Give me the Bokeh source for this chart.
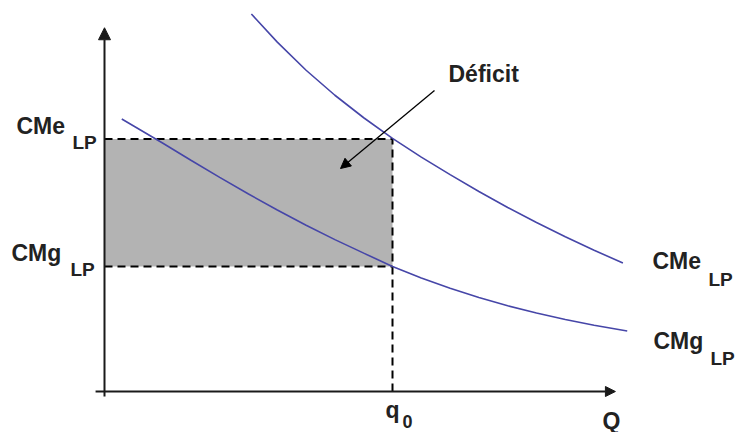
from bokeh.plotting import figure
from bokeh.models import Range1d, Arrow, NormalHead, Label
from bokeh.embed import file_html
from bokeh.resources import INLINE

# ---------------- data ----------------
q_cme = [5.1, 6, 7, 8, 9, 10, 11, 12, 13, 14, 15, 16, 17, 18]
cme_values = [30.2, 27.95, 25.7, 23.7, 21.9, 20.25, 18.75, 17.35, 16.0, 14.72, 13.52, 12.38, 11.3, 10.28]

q_cmg = [0.6, 2, 3, 4, 5, 6, 7, 8, 9, 10, 11, 12, 13, 14, 15, 16, 17, 18.15]
cmg_values = [21.8, 19.9, 18.5, 17.13, 15.8, 14.52, 13.3, 12.15, 11.07, 10.0,
              9.08, 8.26, 7.52, 6.86, 6.28, 5.76, 5.3, 4.84]

q0 = 10.0
cme_lp = 20.2
cmg_lp = 10.0
q_axis_end = 17.74
p_axis_end = 29.1

main_labels = ["CMe", "CMg"]
sub_label = "LP"
deficit_label = "Déficit"
q0_label = ("q", "0")
q_label = "Q"

# ---------------- layout / style ----------------
W, H = 737, 432
XU, YU = 28.8, 12.5          # pixels per data unit
OX, OY = 104, 391            # picture position of origin
SHIFT = 8                    # text baseline correction (px)
FONT = "Liberation Sans"
TXT = "#222222"
CURVE = "#4646a8"
AXIS = "#1a1a1a"


def dx(px):
    return (px - OX) / XU


def dy(py):
    return (OY - py) / YU


p = figure(width=W, height=H,
           x_range=Range1d(dx(0), dx(W)),
           y_range=Range1d(dy(H), dy(0)),
           x_axis_type=None, y_axis_type=None,
           output_backend="svg", toolbar_location=None,
           min_border=0, title=None)
p.outline_line_color = None
p.background_fill_color = "white"
p.border_fill_color = "white"

# shaded deficit area
p.quad(left=[0], right=[q0], bottom=[cmg_lp], top=[cme_lp],
       fill_color="#b3b3b3", line_color=None)

# dashed guide lines
p.segment(x0=[0, 0, q0], y0=[cme_lp, cmg_lp, 0], x1=[q0, q0, q0], y1=[cme_lp, cmg_lp, cme_lp],
          line_color="black", line_width=2, line_dash="8 5")

# curves
p.line(q_cme, cme_values, line_color=CURVE, line_width=1.6)
p.line(q_cmg, cmg_values, line_color=CURVE, line_width=1.6)

# axes
p.add_layout(Arrow(end=NormalHead(size=12, fill_color=AXIS, line_color=AXIS),
                   x_start=0, y_start=-0.4, x_end=0, y_end=p_axis_end,
                   line_width=2, line_color=AXIS))
p.add_layout(Arrow(end=NormalHead(size=10, fill_color=AXIS, line_color=AXIS),
                   x_start=-0.31, y_start=0, x_end=q_axis_end, y_end=0,
                   line_width=2, line_color=AXIS))

# deficit arrow
p.add_layout(Arrow(end=NormalHead(size=10, fill_color="black", line_color="black"),
                   x_start=dx(434), y_start=dy(90), x_end=dx(340), y_end=dy(168),
                   line_width=1.3, line_color="black"))


def lab(x, y, text, size):
    p.add_layout(Label(x=x, y=y + SHIFT / YU, text=text, text_font=FONT, text_font_style="bold",
                       text_font_size=size, text_color=TXT,
                       text_align="left", text_baseline="alphabetic"))


# left labels
lab(dx(16), cme_lp + 5.5 / YU, main_labels[0], "23px")
lab(dx(72), cme_lp - 11.5 / YU, sub_label, "19px")
lab(dx(11), cmg_lp + 6 / YU, main_labels[1], "23px")
lab(dx(70), cmg_lp - 11 / YU, sub_label, "19px")

# right labels
lab(dx(652), dy(268), main_labels[0], "23px")
lab(dx(708), dy(287), sub_label, "19px")
lab(dx(653), dy(348), main_labels[1], "23px")
lab(dx(710), dy(366), sub_label, "19px")

# deficit text
lab(dx(448), dy(81), deficit_label, "23px")

# q0 and Q
lab(q0 - 7 / XU, dy(417), q0_label[0], "23px")
lab(q0 + 10 / XU, dy(429), q0_label[1], "18px")
lab(dx(602), dy(428), q_label, "23px")

open("out.html", "w").write(file_html(p, INLINE))
